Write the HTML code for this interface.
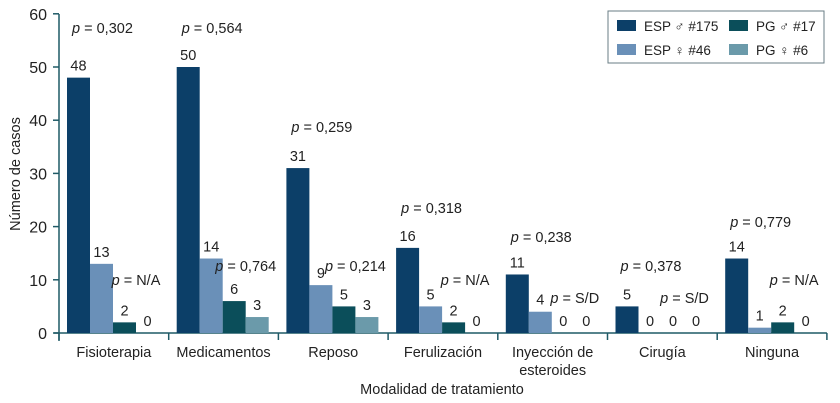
<!DOCTYPE html>
<html><head><meta charset="utf-8">
<style>
body{margin:0;background:#fff;}
svg{display:block;font-family:"Liberation Sans",sans-serif;}
</style></head>
<body>
<svg id="chart" width="840" height="403" viewBox="0 0 840 403"></svg>
<script>
const categories=["Fisioterapia","Medicamentos","Reposo","Ferulización","Inyección de|esteroides","Cirugía","Ninguna"];
const espMale=[48,50,31,16,11,5,14];
const espFemale=[13,14,9,5,4,0,1];
const pgMale=[2,6,5,2,0,0,2];
const pgFemale=[0,3,3,0,0,0,0];
const pEsp=["0,302","0,564","0,259","0,318","0,238","0,378","0,779"];
const pEspLevel=[57.3,57.3,38.7,23.5,18,12.6,20.9];
const pPg=["N/A","0,764","0,214","N/A","S/D","S/D","N/A"];
const pPgLevel=[10,12.6,12.6,10,6.6,6.6,10];
const yTicks=[0,10,20,30,40,50,60];
const seriesNames=["ESP ♂ #175","ESP ♀ #46","PG ♂ #17","PG ♀ #6"];
const colors=["#0c3f68","#6a90b8","#0b4e5a","#6b9aaa"];

const NS="http://www.w3.org/2000/svg";
const svg=document.getElementById('chart');
const x0=59,catW=109.7,y0=333,pxU=5.32,barW=23,off=8;
const y=v=>y0-v*pxU;
const cx=(i,j)=>x0+i*catW+off+j*barW;
function mk(t,a,txt){const e=document.createElementNS(NS,t);for(const k in a)e.setAttribute(k,a[k]);if(txt!==undefined)e.textContent=txt;svg.appendChild(e);return e;}
const axisCol="#1f5a66";
let e=mk('line',{x1:x0,y1:14,x2:x0,y2:y0+8,stroke:axisCol,'stroke-width':1.5});

e=mk('line',{x1:x0-5,y1:y0,x2:x0+7*catW,y2:y0,stroke:axisCol,'stroke-width':1.5});

yTicks.forEach(t=>{
  let l=mk('line',{x1:x0-6,y1:y(t),x2:x0,y2:y(t),stroke:axisCol,'stroke-width':1.5});
  
  let tx=mk('text',{x:x0-12,y:y(t)+6,'text-anchor':'end','font-size':16,fill:'#222'},t);
  
});
for(let i=0;i<=7;i++){
  let l=mk('line',{x1:x0+i*catW,y1:y0,x2:x0+i*catW,y2:y0+7,stroke:axisCol,'stroke-width':1.5});
  
}
const series=[espMale,espFemale,pgMale,pgFemale];
categories.forEach((c,i)=>{
  series.forEach((s,j)=>{
    const v=s[i];
    if(v>0){let r=mk('rect',{x:cx(i,j),y:y(v),width:barW,height:v*pxU,fill:colors[j]});
      }
    let t=mk('text',{x:cx(i,j)+barW/2,y:y(v)-7,'text-anchor':'middle','font-size':14.5,fill:'#222'},v);
    
  });
  const lines=c.split('|');
  lines.forEach((ln,k)=>{
    let t=mk('text',{x:x0+i*catW+catW/2,y:357+k*18,'text-anchor':'middle','font-size':14.5,fill:'#222'},ln);
    
  });
  let p1=mk('text',{x:cx(i,0)+5,y:y(pEspLevel[i])+5,'font-size':14.5,fill:'#222'});
  
  p1.innerHTML='<tspan font-style="italic">p</tspan> = '+pEsp[i];
  let p2=mk('text',{x:cx(i,3),y:y(pPgLevel[i])+5,'text-anchor':'middle','font-size':14.5,fill:'#222'});
  
  p2.innerHTML='<tspan font-style="italic">p</tspan> = '+pPg[i];
});
e=mk('text',{x:442,y:394,'text-anchor':'middle','font-size':14.5,fill:'#222'},'Modalidad de tratamiento');

e=mk('text',{x:20,y:174,'text-anchor':'middle','font-size':14.5,fill:'#222',transform:'rotate(-90 20 174)'},'Número de casos');

e=mk('rect',{x:608,y:11,width:216,height:52,fill:'#fff',stroke:'#6a7d84','stroke-width':1});

seriesNames.forEach((n,j)=>{
  const lx=617+(j>=2?112:0), ly=20+(j%2)*24;
  let r=mk('rect',{x:lx,y:ly,width:19,height:11,fill:colors[j]});
  
  let t=mk('text',{x:lx+27,y:ly+11,'font-size':13.5,fill:'#222'},n);
  
});
</script>
</body></html>
